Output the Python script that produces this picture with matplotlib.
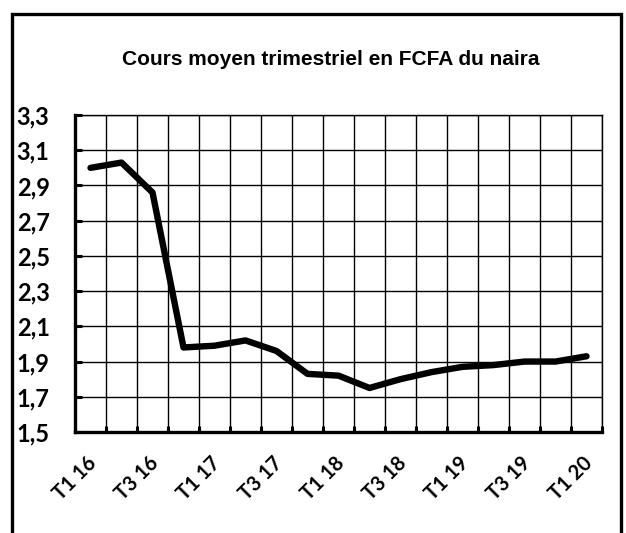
import matplotlib
matplotlib.use("Agg")
import matplotlib.pyplot as plt
from matplotlib.patches import Rectangle
from matplotlib.transforms import ScaledTranslation
import numpy as np

# quarterly data, T1 2016 -> T1 2020
quarters = ['T1 16', 'T2 16', 'T3 16', 'T4 16',
            'T1 17', 'T2 17', 'T3 17', 'T4 17',
            'T1 18', 'T2 18', 'T3 18', 'T4 18',
            'T1 19', 'T2 19', 'T3 19', 'T4 19',
            'T1 20']
naira_fcfa = [3.00, 3.03, 2.86, 1.98, 1.99, 2.02, 1.96, 1.83, 1.82,
              1.75, 1.80, 1.84, 1.87, 1.88, 1.90, 1.90, 1.93]
y_ticks = [1.5, 1.7, 1.9, 2.1, 2.3, 2.5, 2.7, 2.9, 3.1, 3.3]
title = 'Cours moyen trimestriel en FCFA du naira'

label_font = ['Lato', 'DejaVu Sans']

fig = plt.figure(figsize=(6.26, 5.33), dpi=100)
ax = fig.add_axes([0.1198, 0.1895, 0.8419, 0.5947])

x = np.arange(len(quarters))
ax.plot(x, naira_fcfa, color='black', linewidth=4.6,
        solid_capstyle='round', solid_joinstyle='round', zorder=3)

ax.set_xlim(-0.5, len(quarters) - 0.5)
ax.set_ylim(y_ticks[0], y_ticks[-1])

# gridlines at category boundaries (Excel style)
ax.set_xticks(np.arange(-0.5, len(quarters), 1.0))
ax.set_xticklabels([])
ax.tick_params(axis='x', which='major', direction='in', length=4, width=2.2, color='black')
ax.set_xticks(x[::2], minor=True)
ax.set_xticklabels(quarters[::2], minor=True, rotation=45, ha='right', va='top',
                   rotation_mode='anchor', fontsize=14.5, fontweight='bold', family=label_font)
ax.tick_params(axis='x', which='minor', length=0, pad=15)
shift = ScaledTranslation(-4 / 100, 0, fig.dpi_scale_trans)
for lab in ax.get_xticklabels(minor=True):
    lab.set_transform(lab.get_transform() + shift)

ax.set_yticks(y_ticks)
ax.set_yticklabels([f'{v:.1f}'.replace('.', ',') for v in y_ticks],
                   fontsize=17, fontweight='bold', family=label_font)
ax.tick_params(axis='y', direction='in', length=5, width=2.2, pad=42)
for lab in ax.get_yticklabels():
    lab.set_horizontalalignment('left')

ax.grid(True, which='major', color='black', linewidth=1.0)
ax.set_axisbelow(True)

ax.spines['left'].set_linewidth(2.4)
ax.spines['bottom'].set_linewidth(2.4)
ax.spines['top'].set_linewidth(1.0)
ax.spines['right'].set_linewidth(1.0)

fig.text(0.529, 0.888, title, ha='center', va='center', fontsize=15,
         fontweight='bold', family=['Liberation Sans', 'DejaVu Sans'])

# outer frame of the chart (bottom edge runs off the picture)
fig.patches.append(Rectangle((12 / 626, -0.05), (621 - 12) / 626, 1 - 14 / 533 + 0.05,
                             transform=fig.transFigure, fill=False,
                             edgecolor='black', linewidth=2.4, clip_on=False))

fig.savefig('out.png', dpi=100)
